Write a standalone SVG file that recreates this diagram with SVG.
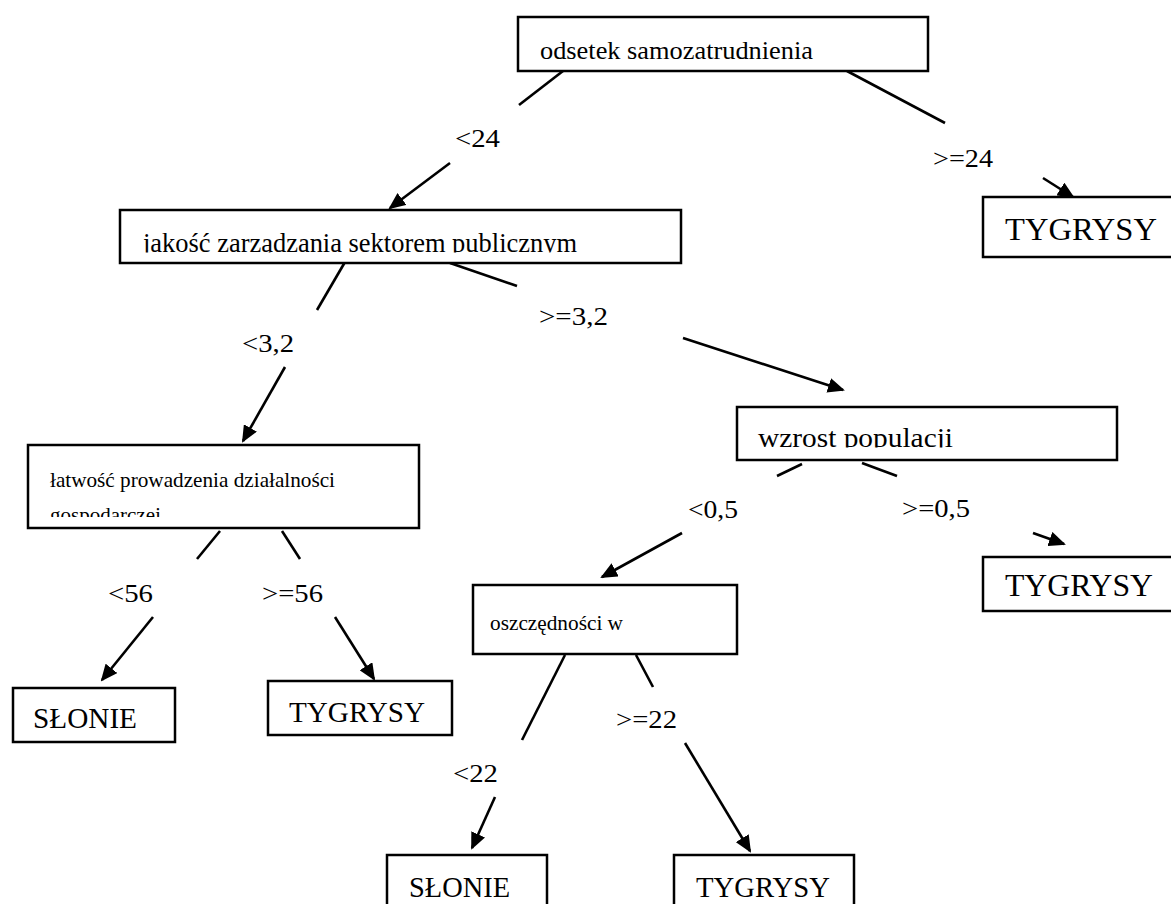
<svg xmlns="http://www.w3.org/2000/svg" width="1171" height="904" viewBox="0 0 1171 904" font-family="'Liberation Serif', 'DejaVu Serif', serif">
<style>
.box{fill:#fff;stroke:#000;stroke-width:2.5}
text{font-family:'Liberation Serif','DejaVu Serif',serif;fill:#000}
.c line{stroke:#000;stroke-width:2.6;fill:none}
.a{marker-end:url(#ah)}
</style>
<defs>
<marker id="ah" viewBox="0 0 17 15" refX="15" refY="7.5" markerWidth="17" markerHeight="15" markerUnits="userSpaceOnUse" orient="auto">
<path d="M0,0 L17,7.5 L0,15 z" fill="#000"/>
</marker>
<clipPath id="cj"><rect x="120" y="210" width="562" height="42.5"/></clipPath>
<clipPath id="cw"><rect x="737" y="407" width="380" height="40.5"/></clipPath>
<clipPath id="cl"><rect x="28" y="445" width="391" height="72"/></clipPath>
</defs>
<rect width="1171" height="904" fill="#fff"/>

<g id="connectors" class="c">
<line x1="563" y1="71" x2="519" y2="105"/>
<line class="a" x1="450" y1="163" x2="390" y2="208"/>
<line x1="847" y1="71" x2="945" y2="123"/>
<line class="a" x1="1043" y1="178" x2="1073" y2="197"/>
<line x1="345" y1="262" x2="317" y2="310"/>
<line class="a" x1="285" y1="367" x2="243" y2="441"/>
<line x1="450" y1="263" x2="517" y2="286"/>
<line class="a" x1="683" y1="338" x2="843" y2="390"/>
<line x1="220" y1="531" x2="197" y2="559"/>
<line class="a" x1="153" y1="617" x2="102" y2="680"/>
<line x1="282" y1="531" x2="300" y2="559"/>
<line class="a" x1="335" y1="617" x2="374" y2="679"/>
<line x1="802" y1="464" x2="777" y2="476"/>
<line class="a" x1="682" y1="533" x2="602" y2="577"/>
<line x1="862" y1="463" x2="897" y2="476"/>
<line class="a" x1="1033" y1="533" x2="1064" y2="544"/>
<line x1="565" y1="655" x2="522" y2="740"/>
<line class="a" x1="495" y1="797" x2="472" y2="848"/>
<line x1="636" y1="655" x2="653" y2="687"/>
<line class="a" x1="685" y1="743" x2="750" y2="851"/>
</g>

<g id="labels" font-size="25">
<text x="455" y="147" textLength="45" lengthAdjust="spacingAndGlyphs">&lt;24</text>
<text x="933" y="167" textLength="60" lengthAdjust="spacingAndGlyphs">&gt;=24</text>
<text x="242" y="352" textLength="52" lengthAdjust="spacingAndGlyphs">&lt;3,2</text>
<text x="539" y="325" textLength="69" lengthAdjust="spacingAndGlyphs">&gt;=3,2</text>
<text x="108" y="602" textLength="45" lengthAdjust="spacingAndGlyphs">&lt;56</text>
<text x="262" y="602" textLength="61" lengthAdjust="spacingAndGlyphs">&gt;=56</text>
<text x="688" y="518" textLength="50" lengthAdjust="spacingAndGlyphs">&lt;0,5</text>
<text x="902" y="517" textLength="68" lengthAdjust="spacingAndGlyphs">&gt;=0,5</text>
<text x="453" y="782" textLength="45" lengthAdjust="spacingAndGlyphs">&lt;22</text>
<text x="616" y="728" textLength="61" lengthAdjust="spacingAndGlyphs">&gt;=22</text>
</g>

<g id="n-odsetek">
<rect class="box" x="518" y="17" width="410" height="54"/>
<text x="540" y="59" font-size="26" textLength="273" lengthAdjust="spacingAndGlyphs">odsetek samozatrudnienia</text>
</g>

<g id="n-jakosc">
<rect class="box" x="120" y="210" width="561" height="53"/>
<text x="143" y="252" font-size="27" textLength="434" lengthAdjust="spacingAndGlyphs" clip-path="url(#cj)">jakość zarządzania sektorem publicznym</text>
</g>

<g id="n-tygrysy1">
<rect class="box" x="983" y="197" width="200" height="60"/>
<text x="1005" y="240" font-size="32" textLength="152" lengthAdjust="spacingAndGlyphs">TYGRYSY</text>
</g>

<g id="n-latwosc">
<rect class="box" x="28" y="445" width="391" height="83"/>
<g clip-path="url(#cl)">
<text x="50" y="487" font-size="21" textLength="285" lengthAdjust="spacingAndGlyphs">łatwość prowadzenia działalności</text>
<text x="50" y="522" font-size="21">gospodarczej</text>
</g>
</g>

<g id="n-wzrost">
<rect class="box" x="737" y="407" width="380" height="53"/>
<text x="758" y="447" font-size="28" textLength="195" lengthAdjust="spacingAndGlyphs" clip-path="url(#cw)">wzrost populacji</text>
</g>

<g id="n-tygrysy2">
<rect class="box" x="983" y="557" width="200" height="54"/>
<text x="1005" y="596" font-size="32" textLength="148" lengthAdjust="spacingAndGlyphs">TYGRYSY</text>
</g>

<g id="n-oszczednosci">
<rect class="box" x="473" y="585" width="264" height="69"/>
<text x="490" y="630" font-size="21" textLength="133" lengthAdjust="spacingAndGlyphs">oszczędności w</text>
</g>

<g id="n-slonie1">
<rect class="box" x="13" y="688" width="162" height="54"/>
<text x="33" y="728" font-size="29" textLength="104" lengthAdjust="spacingAndGlyphs">SŁONIE</text>
</g>

<g id="n-tygrysy3">
<rect class="box" x="268" y="681" width="184" height="54"/>
<text x="289" y="722" font-size="29" textLength="136" lengthAdjust="spacingAndGlyphs">TYGRYSY</text>
</g>

<g id="n-slonie2">
<rect class="box" x="387" y="855" width="160" height="60"/>
<text x="409" y="897" font-size="28.5" textLength="101" lengthAdjust="spacingAndGlyphs">SŁONIE</text>
</g>

<g id="n-tygrysy4">
<rect class="box" x="674" y="855" width="180" height="60"/>
<text x="696" y="897" font-size="28.5" textLength="134" lengthAdjust="spacingAndGlyphs">TYGRYSY</text>
</g>
</svg>
